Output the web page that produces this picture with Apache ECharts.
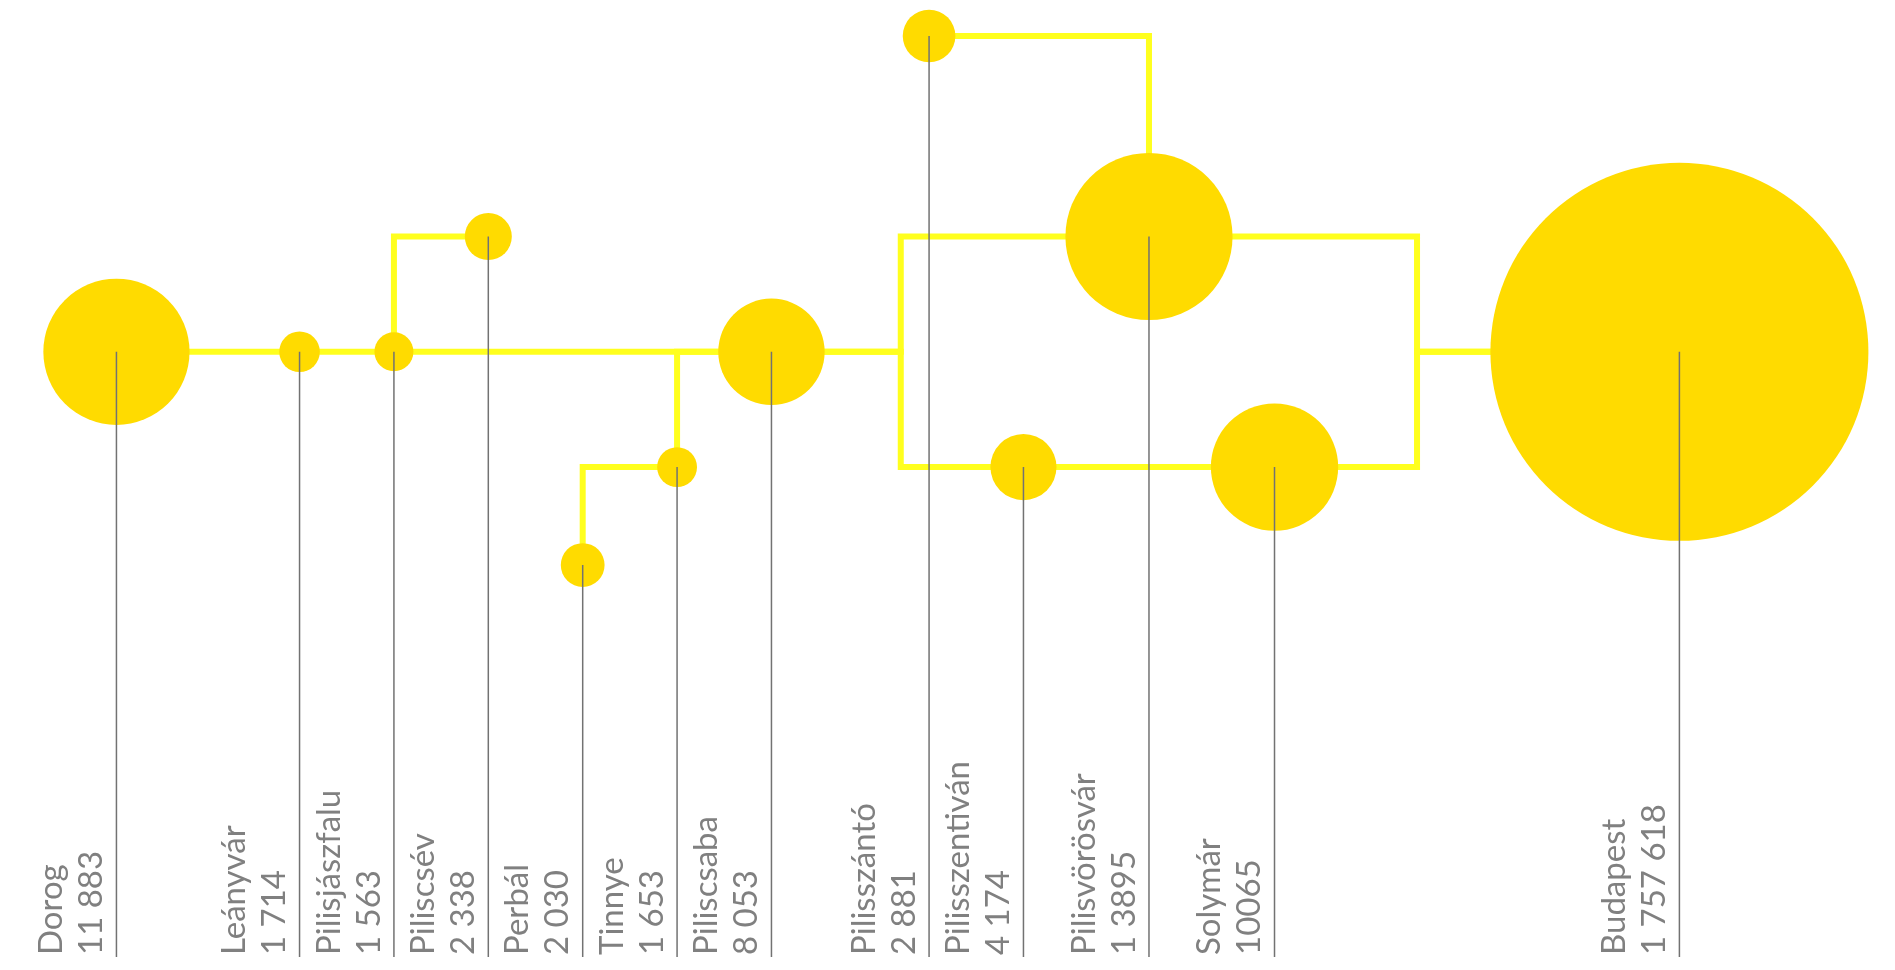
<!DOCTYPE html>
<html>
<head>
<meta charset="utf-8">
<script src="https://cdn.jsdelivr.net/npm/echarts@6/dist/echarts.min.js"></script>
<style>
html, body { margin: 0; padding: 0; background: #ffffff; overflow: hidden; }
#chart { width: 1895px; height: 970px; }
</style>
</head>
<body>
<div id="chart"></div>
<script>
// ---- data ----
const names = ['Dorog', 'Leányvár', 'Pilisjászfalu', 'Piliscsév', 'Perbál', 'Tinnye', 'Piliscsaba',
  'Pilisszántó', 'Pilisszentiván', 'Pilisvörösvár', 'Solymár', 'Budapest'];
const population = [11883, 1714, 1563, 2338, 2030, 1653, 8053, 2881, 4174, 13895, 10065, 1757618];
const populationText = ['11 883', '1 714', '1 563', '2 338', '2 030', '1 653', '8 053',
  '2 881', '4 174', '1 3895', '10065', '1 757 618'];
// layout of the diagram (column along the route, row above/below the main line)
const column = [0.06, 2, 3, 4, 5, 6, 7, 8.67, 9.67, 11, 12.33, 16.62];
const row = [0, 0, 0, 1, -1.85, -1, 0, 2.74, -1, 1, -1, 0];
// junction columns of the branching road network
const busLeft = 8.37;
const busRight = 13.84;
// connections: [from, to, routing, junction column]
const links = [
  ['Dorog', 'Leányvár', 'h'],
  ['Leányvár', 'Pilisjászfalu', 'h'],
  ['Pilisjászfalu', 'Piliscsaba', 'h'],
  ['Piliscsév', 'Pilisjászfalu', 'hv'],
  ['Perbál', 'Tinnye', 'vh'],
  ['Tinnye', 'Piliscsaba', 'vh'],
  ['Pilisszántó', 'Pilisvörösvár', 'hv'],
  ['Piliscsaba', 'Pilisvörösvár', 'bus', busLeft],
  ['Piliscsaba', 'Pilisszentiván', 'bus', busLeft],
  ['Pilisszentiván', 'Solymár', 'h'],
  ['Pilisvörösvár', 'Budapest', 'bus', busRight],
  ['Solymár', 'Budapest', 'bus', busRight]
];

// ---- build ----
function pos(name) {
  const i = names.indexOf(name);
  return [column[i], row[i]];
}
function route(l) {
  const a = pos(l[0]), b = pos(l[1]);
  if (l[2] === 'h') return [a, b];
  if (l[2] === 'hv') return [a, [b[0], a[1]], b];
  if (l[2] === 'vh') return [a, [a[0], b[1]], b];
  return [a, [l[3], a[1]], [l[3], b[1]], b];
}
// bubble size: linear scale for towns, capped (broken scale) for the capital
const sizeDomain = [1000, 14000];
const sizeRange = [33.1, 168.2];
const capSize = 378;
function bubbleSize(d) {
  const v = d[2];
  if (v > 100000) return capSize;
  return echarts.number.linearMap(v, sizeDomain, sizeRange, false);
}

const chart = echarts.init(document.getElementById('chart'), null, { renderer: 'canvas' });
const labelFont = '400 33px Lato';

chart.setOption({
  animation: false,
  backgroundColor: '#ffffff',
  grid: { left: 16.4, top: 6, width: 1878.2, height: 951 },
  xAxis: { type: 'value', min: -1, max: 18.9, show: false },
  yAxis: { type: 'value', min: -5.25, max: 3, show: false },
  series: [
    {
      type: 'lines',
      coordinateSystem: 'cartesian2d',
      polyline: true,
      silent: true,
      z: 1,
      lineStyle: { color: '#FFFF1E', width: 6, opacity: 1, curveness: 0, cap: 'butt', join: 'miter' },
      data: links.map(l => ({ coords: route(l) }))
    },
    {
      type: 'scatter',
      silent: true,
      z: 2,
      symbol: 'circle',
      symbolSize: bubbleSize,
      itemStyle: { color: '#FFDB00', opacity: 1 },
      data: names.map((n, i) => [column[i], row[i], population[i]])
    },
    {
      type: 'custom',
      silent: true,
      z: 3,
      encode: { x: 0, y: 1 },
      data: names.map((n, i) => [column[i], row[i]]),
      renderItem: function (params, api) {
        const p = api.coord([api.value(0), api.value(1)]);
        const cs = params.coordSys;
        const bottom = cs.y + cs.height;
        const i = params.dataIndex;
        return {
          type: 'group',
          children: [
            {
              type: 'line',
              shape: { x1: p[0], y1: p[1], x2: p[0], y2: bottom },
              style: { stroke: '#727272', lineWidth: 1.5 }
            },
            {
              type: 'text',
              x: p[0] - 5,
              y: bottom - 2,
              rotation: Math.PI / 2,
              style: {
                text: names[i] + '\n' + populationText[i],
                fill: '#808080',
                font: labelFont,
                align: 'left',
                verticalAlign: 'bottom',
                textAlign: 'left',
                textVerticalAlign: 'bottom',
                lineHeight: 40
              }
            }
          ]
        };
      }
    }
  ]
});
</script>
</body>
</html>
